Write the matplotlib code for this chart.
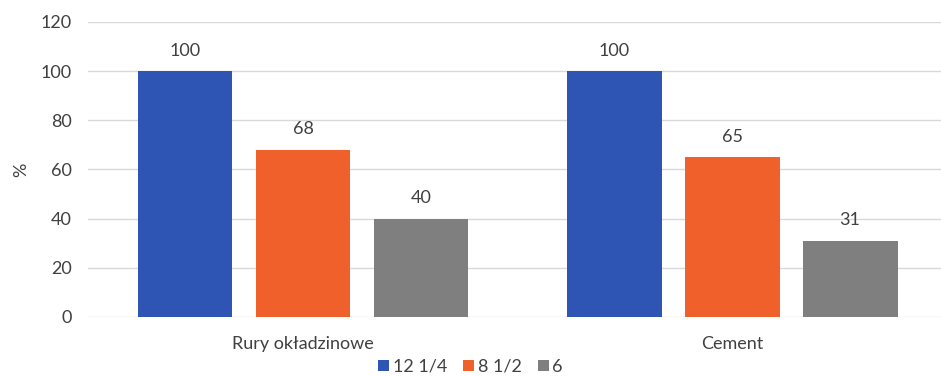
import matplotlib

matplotlib.use("Agg")
import matplotlib.pyplot as plt
import numpy as np

plt.rcParams["font.family"] = ["Lato", "DejaVu Sans"]

kategorie = ["Rury okładzinowe", "Cement"]
serie = ["12 1/4", "8 1/2", "6"]
wartosci = {
    "12 1/4": [100, 100],
    "8 1/2": [68, 65],
    "6": [40, 31],
}
kolory = ["#2E55B4", "#F0602A", "#7F7F7F"]

fig = plt.figure(figsize=(9.41, 3.76), dpi=100)
ax = fig.add_axes([0.094, 0.157, 0.912, 0.785])

x = np.arange(len(kategorie))
szer = 0.221
krok = 0.275
for i, (s, kol) in enumerate(zip(serie, kolory)):
    poz = x + (i - 1) * krok
    bars = ax.bar(poz, wartosci[s], width=szer, color=kol, label=s, zorder=3)
    for b, v in zip(bars, wartosci[s]):
        ax.text(b.get_x() + b.get_width() / 2, v + 5, str(v),
                ha="center", va="bottom", fontsize=13, color="#404040")

ax.set_xlim(-0.5, 1.5)
ax.set_ylim(0, 120)
ax.set_yticks(range(0, 121, 20))
ax.yaxis.grid(True, color="#D9D9D9", linewidth=1, zorder=0)
ax.set_xticks(x)
ax.set_xticklabels(kategorie, fontsize=13.5)
ax.tick_params(axis="both", length=0, labelsize=13, labelcolor="#404040")
ax.tick_params(axis="x", pad=14)
ax.tick_params(axis="y", pad=12)
for sp in ax.spines.values():
    sp.set_visible(False)
ax.set_ylabel("%", fontsize=13, color="#404040", labelpad=8)

fig.legend(loc="lower center", bbox_to_anchor=(0.5, -0.04), ncol=3,
           frameon=False, fontsize=13, handlelength=0.6, handleheight=0.6,
           handletextpad=0.2, columnspacing=0.9, labelcolor="#404040")

fig.savefig("out.png", dpi=100)
